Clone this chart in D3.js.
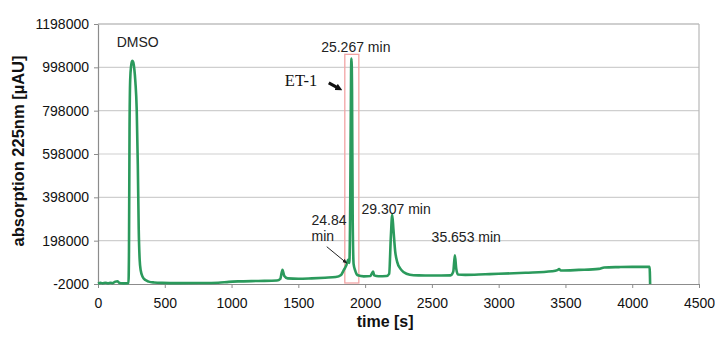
<!DOCTYPE html>
<html>
<head>
<meta charset="utf-8">
<script src="https://cdn.jsdelivr.net/npm/d3@7"></script>
<style>
  body { margin: 0; background: #fff; }
  text { font-family: Arial, "Liberation Sans", sans-serif; }
</style>
</head>
<body>
<div id="chart"></div>
<script>
// Chromatogram trace: time [s] and absorption [µAU]
var times = [0, 20, 35, 55, 75, 95, 110, 130, 145, 160, 190, 228, 232, 236, 241, 248, 256, 264, 272, 280,
  290, 298, 305, 312, 320, 335, 355, 380, 420, 480, 600, 750, 900, 980, 1050, 1200, 1340, 1365, 1381, 1395,
  1420, 1500, 1600, 1700, 1780, 1820, 1840, 1860, 1873, 1882, 1889, 1895, 1898, 1902, 1907, 1914, 1926, 1945,
  1990, 2040, 2052, 2060, 2068, 2100, 2160, 2180, 2193, 2203, 2212, 2225, 2240, 2265, 2290, 2335, 2400, 2500,
  2640, 2660, 2672, 2682, 2695, 2750, 2900, 3000, 3200, 3400, 3440, 3452, 3465, 3600, 3750, 3790, 3900, 4000,
  4130, 4134];
var values = [0, 3000, 1000, 4000, 1000, 4000, 2000, 9000, 11000, 3000, 1000, 1500, 150000, 700000, 940000,
  1005000, 1028000, 1022000, 990000, 930000, 800000, 550000, 250000, 110000, 60000, 30000, 16000, 9000, 5000,
  3000, 2000, 2500, 4000, 8000, 10000, 12000, 14000, 22000, 64000, 35000, 24000, 22000, 24000, 27000, 30000,
  40000, 62000, 85000, 110000, 95000, 400000, 980000, 1038000, 900000, 300000, 90000, 60000, 38000, 33000,
  35000, 48000, 56000, 38000, 34000, 35000, 45000, 220000, 317000, 250000, 150000, 100000, 68000, 52000,
  41000, 38000, 37000, 38000, 55000, 130000, 70000, 42000, 40000, 43000, 45000, 50000, 57000, 62000, 67000,
  60000, 63000, 68000, 74000, 76000, 77000, 77000, -2000];

var xTicks = [0, 500, 1000, 1500, 2000, 2500, 3000, 3500, 4000, 4500];
var yTicks = [-2000, 198000, 398000, 598000, 798000, 998000, 1198000];

// Peak labels: [text, time, value] (text baseline anchor)
var peakLabels = [
  ["DMSO", 140, 1092000],
  ["25.267 min", 1671, 1069000],
  ["29.307 min", 1973, 322000],
  ["35.653 min", 2498, 191000]
];

var width = 715, height = 338;
var margin = { top: 24, right: 16, bottom: 54, left: 98 };
var w = width - margin.left - margin.right;
var h = height - margin.top - margin.bottom;

var svg = d3.select("#chart").append("svg")
    .attr("width", width)
    .attr("height", height);

var g = svg.append("g")
    .attr("transform", "translate(" + margin.left + "," + margin.top + ")");

var x = d3.scaleLinear().domain([0, 4500]).range([0, w]);
var y = d3.scaleLinear().domain([-2000, 1198000]).range([h, 0]);

// Horizontal gridlines
g.selectAll("line.grid")
    .data(yTicks.slice(1))
    .enter().append("line")
    .attr("class", "grid")
    .attr("x1", 0).attr("x2", w)
    .attr("y1", function(d) { return y(d); })
    .attr("y2", function(d) { return y(d); })
    .attr("stroke", "#cfcfcf")
    .attr("stroke-width", 1.2);

// Plot frame top and right
g.append("line")
    .attr("x1", w).attr("x2", w).attr("y1", 0).attr("y2", h)
    .attr("stroke", "#b8b8b8").attr("stroke-width", 1.2);
g.append("line")
    .attr("x1", 0).attr("x2", w).attr("y1", 0).attr("y2", 0)
    .attr("stroke", "#b8b8b8").attr("stroke-width", 1.2);

// Axes
var plain = function(d) { return String(d); };
var xAxis = g.append("g")
    .attr("transform", "translate(0," + h + ")")
    .call(d3.axisBottom(x).tickValues(xTicks).tickSize(4).tickPadding(10).tickSizeOuter(0).tickFormat(plain));
var yAxis = g.append("g")
    .call(d3.axisLeft(y).tickValues(yTicks).tickSize(4).tickPadding(5).tickSizeOuter(0).tickFormat(plain));

[xAxis, yAxis].forEach(function(a) {
  a.select(".domain").attr("stroke", "#8c8c8c").attr("stroke-width", 1.2);
  a.selectAll(".tick line").attr("stroke", "#8c8c8c");
  a.selectAll(".tick text").attr("fill", "#111").style("font-size", "14px");
});

// Red highlight box round the main peak
g.append("rect")
    .attr("x", x(1848)).attr("y", y(1058000))
    .attr("width", x(1953) - x(1848)).attr("height", y(-2000) - y(1058000) - 1)
    .attr("fill", "none")
    .attr("stroke", "#f2a4a4")
    .attr("stroke-width", 1.3);

// Trace
var trace = times.map(function(t, i) { return [t, values[i]]; });
var line = d3.line()
    .x(function(d) { return x(d[0]); })
    .y(function(d) { return y(d[1]); })
    .curve(d3.curveMonotoneX);

g.append("path")
    .datum(trace)
    .attr("d", line)
    .attr("fill", "none")
    .attr("stroke", "#2b9a5c")
    .attr("stroke-width", 2.6)
    .attr("stroke-linejoin", "round");

// Peak labels
g.selectAll("text.peak")
    .data(peakLabels)
    .enter().append("text")
    .attr("class", "peak")
    .attr("x", function(d) { return x(d[1]); })
    .attr("y", function(d) { return y(d[2]); })
    .attr("fill", "#222")
    .style("font-size", "14px")
    .text(function(d) { return d[0]; });

// 24.84 min, two lines, with leader line
var small = g.append("text")
    .attr("x", x(1599)).attr("y", y(271000))
    .attr("fill", "#222")
    .style("font-size", "14px");
small.append("tspan").attr("x", x(1599)).text("24.84");
small.append("tspan").attr("x", x(1599)).attr("dy", 16.5).text("min");

var defs = svg.append("defs");
defs.append("marker")
    .attr("id", "head")
    .attr("viewBox", "0 0 10 10")
    .attr("refX", 8).attr("refY", 5)
    .attr("markerWidth", 5).attr("markerHeight", 5)
    .attr("orient", "auto")
    .append("path").attr("d", "M0,1 L10,5 L0,9 Z").attr("fill", "#222");

g.append("line")
    .attr("x1", x(1713)).attr("y1", y(170000))
    .attr("x2", x(1861)).attr("y2", y(95000))
    .attr("stroke", "#222")
    .attr("stroke-width", 1)
    .attr("marker-end", "url(#head)");

// ET-1 label with small black arrow
g.append("text")
    .attr("x", x(1399)).attr("y", y(912000))
    .attr("fill", "#111")
    .style("font-family", "'Times New Roman', 'Liberation Serif', serif")
    .style("font-size", "16.5px")
    .text("ET-1");

defs.append("marker")
    .attr("id", "fat")
    .attr("viewBox", "0 0 10 10")
    .attr("refX", 5).attr("refY", 5)
    .attr("markerWidth", 2.2).attr("markerHeight", 2.2)
    .attr("orient", "auto")
    .append("path").attr("d", "M0,0 L10,5 L0,10 Z").attr("fill", "#111");

g.append("line")
    .attr("x1", x(1728)).attr("y1", y(926000))
    .attr("x2", x(1806)).attr("y2", y(900000))
    .attr("stroke", "#111")
    .attr("stroke-width", 3.2)
    .attr("marker-end", "url(#fat)");

// Axis titles
svg.append("text")
    .attr("x", margin.left + x(2150))
    .attr("y", 327)
    .attr("text-anchor", "middle")
    .attr("fill", "#111")
    .style("font-size", "16px")
    .style("font-weight", "bold")
    .text("time [s]");

svg.append("text")
    .attr("transform", "translate(18," + 151 + ") rotate(-90)")
    .attr("text-anchor", "middle")
    .attr("dominant-baseline", "central")
    .attr("fill", "#111")
    .style("font-size", "16.5px")
    .style("font-weight", "bold")
    .text("absorption 225nm [µAU]");
</script>
</body>
</html>
